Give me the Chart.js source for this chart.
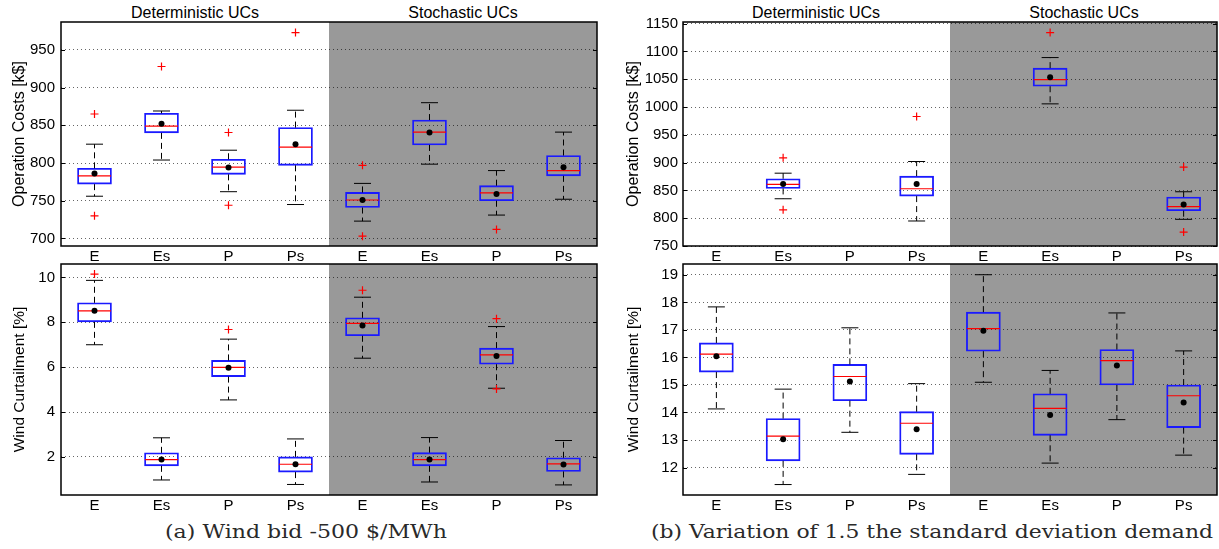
<!DOCTYPE html>
<html>
<head>
<meta charset="utf-8">
<script src="https://cdn.jsdelivr.net/npm/chart.js@4.4.1/dist/chart.umd.min.js"></script>
<style>
body { margin:0; background:#fff; width:1219px; height:549px; overflow:hidden; position:relative; font-family:"Liberation Sans", Arial, sans-serif; }
canvas { position:absolute; }
.lab { position:absolute; font-size:16px; color:#000; white-space:nowrap; transform:translateX(-50%); }
.cap { position:absolute; font-family:"DejaVu Serif", serif; font-size:18px; color:#2a2a2a; white-space:nowrap; transform-origin:0 0; }
</style>
</head>
<body>
<div class="lab" style="left:195px;top:4px">Deterministic UCs</div>
<div class="lab" style="left:463px;top:4px">Stochastic UCs</div>
<div class="lab" style="left:816px;top:4px">Deterministic UCs</div>
<div class="lab" style="left:1084px;top:4px">Stochastic UCs</div>

<canvas id="costA" width="602" height="262" style="left:0;top:0"></canvas>
<canvas id="windA" width="602" height="250" style="left:0;top:262px"></canvas>
<canvas id="costB" width="607" height="262" style="left:612px;top:0"></canvas>
<canvas id="windB" width="607" height="250" style="left:612px;top:262px"></canvas>

<div class="cap" id="capA" data-x="165" data-w="282" style="top:521px">(a) Wind bid -500 $/MWh</div>
<div class="cap" id="capB" data-x="651" data-w="562" style="top:521px">(b) Variation of 1.5 the standard deviation demand</div>

<script>
// categories along x (deterministic first, stochastic second)
var categories = ['E', 'Es', 'P', 'Ps', 'E', 'Es', 'P', 'Ps'];

// (a) operation costs [k$]
var costA_hi   = [825, 869, 817, 870, 773, 880, 790, 841];
var costA_q3   = [793, 866, 805, 847, 761, 857, 770, 810];
var costA_med  = [783, 849, 794.5, 821, 751, 841, 760.5, 790];
var costA_q1   = [772, 840, 785, 797, 741, 824, 750, 783];
var costA_lo   = [756, 804, 762, 745, 723, 798.5, 731, 752];
var costA_mean = [786, 852, 794, 825, 751, 840.5, 759, 794.5];
var costA_out  = [[730, 865], [928], [744, 840.5], [973], [703, 797], [], [712], []];
var costA_ticks = [700, 750, 800, 850, 900, 950];

// (a) wind curtailment [%]
var windA_hi   = [9.87, 2.85, 7.25, 2.8, 9.12, 2.86, 7.81, 2.73];
var windA_q3   = [8.87, 2.18, 6.3, 2.0, 8.2, 2.19, 6.85, 1.96];
var windA_med  = [8.51, 1.88, 5.99, 1.67, 7.95, 1.88, 6.55, 1.69];
var windA_q1   = [8.02, 1.6, 5.58, 1.32, 7.4, 1.6, 6.13, 1.35];
var windA_lo   = [7.0, 0.97, 4.54, 0.77, 6.4, 0.88, 5.06, 0.75];
var windA_mean = [8.51, 1.88, 5.97, 1.67, 7.86, 1.88, 6.5, 1.66];
var windA_out  = [[10.15], [], [7.68], [], [9.43], [], [8.16, 5.03], []];
var windA_ticks = [2, 4, 6, 8, 10];

// (b) operation costs [k$]  (E and P have no data)
var costB_hi   = [null, 881, null, 902, null, 1089, null, 847.6];
var costB_q3   = [null, 871, null, 875.7, null, 1070, null, 838];
var costB_med  = [null, 861, null, 853, null, 1049.4, null, 821];
var costB_q1   = [null, 853.6, null, 839.8, null, 1037.4, null, 813.5];
var costB_lo   = [null, 835, null, 795, null, 1005.7, null, 798];
var costB_mean = [null, 861.4, null, 861.4, null, 1053.6, null, 824.8];
var costB_out  = [[], [908.7, 815], [], [983], [], [1134], [], [892, 775]];
var costB_ticks = [750, 800, 850, 900, 950, 1000, 1050, 1100, 1150];

// (b) wind curtailment [%]
var windB_hi   = [17.84, 14.85, 17.08, 15.05, 19.01, 15.53, 17.62, 16.24];
var windB_q3   = [16.53, 13.78, 15.75, 14.03, 17.65, 14.68, 16.29, 15.0];
var windB_med  = [16.12, 13.14, 15.31, 13.61, 17.05, 14.15, 15.89, 14.61];
var windB_q1   = [15.47, 12.24, 14.43, 12.48, 16.23, 13.17, 15.0, 13.45];
var windB_lo   = [14.13, 11.38, 13.28, 11.75, 15.1, 12.16, 13.74, 12.45];
var windB_mean = [16.05, 13.03, 15.13, 13.39, 16.97, 13.91, 15.71, 14.36];
var windB_out  = [[], [], [], [], [], [], [], []];
var windB_ticks = [12, 13, 14, 15, 16, 17, 18, 19];

var FONT = '"Liberation Sans", Arial, sans-serif';

// grey background behind the stochastic half, frame + inward ticks on top
var panelPlugin = {
    id: 'panel',
    beforeDraw: function(chart) {
        var a = chart.chartArea, ctx = chart.ctx;
        var x0 = chart.scales.x.getPixelForValue(4.5);
        ctx.save();
        ctx.fillStyle = '#999999';
        ctx.fillRect(x0, a.top, a.right - x0, a.bottom - a.top);
        ctx.restore();
    },
    afterDraw: function(chart) {
        var a = chart.chartArea, ctx = chart.ctx, y = chart.scales.y;
        ctx.save();
        ctx.strokeStyle = '#000';
        ctx.lineWidth = 1.5;
        ctx.strokeRect(a.left, a.top, a.right - a.left, a.bottom - a.top);
        ctx.lineWidth = 1;
        y.ticks.forEach(function(t) {
            var py = Math.round(y.getPixelForValue(t.value)) + 0.5;
            ctx.beginPath();
            ctx.moveTo(a.left, py); ctx.lineTo(a.left + 4, py);
            ctx.moveTo(a.right - 4, py); ctx.lineTo(a.right, py);
            ctx.stroke();
        });
        ctx.restore();
    }
};

function boxChart(id, lo, q1, med, q3, hi, mean, out, yMin, yMax, yTicks, yTitle, opt) {
    var boxes = [], whisk = [], caps = [], meds = [], means = [], outs = [];
    categories.forEach(function(c, i) {
        var x = i + 1;
        if (med[i] == null) return;
        boxes.push({x: x, y: [q1[i], q3[i]]});
        whisk.push({x: x, y: q3[i]}, {x: x, y: hi[i]}, {x: x, y: null},
                   {x: x, y: q1[i]}, {x: x, y: lo[i]}, {x: x, y: null});
        caps.push({x: x, y: hi[i]}, {x: x, y: lo[i]});
        meds.push({x: x, y: med[i]});
        means.push({x: x, y: mean[i]});
        out[i].forEach(function(v) { outs.push({x: x, y: v}); });
    });

    return new Chart(document.getElementById(id), {
        data: {
            datasets: [
                { type: 'bar', data: boxes, order: 5, backgroundColor: 'rgba(0,0,0,0)',
                  borderColor: '#1a1aff', borderWidth: 1.2, borderSkipped: false, barThickness: 34 },
                { type: 'line', data: whisk, order: 4, borderColor: '#000', borderWidth: 1,
                  borderDash: [6, 4], pointRadius: 0, spanGaps: false, fill: false },
                { type: 'scatter', data: caps, order: 3, pointStyle: 'line', pointRadius: 8.5,
                  borderColor: '#000', pointBorderWidth: 1 },
                { type: 'scatter', data: meds, order: 2, pointStyle: 'line', pointRadius: 16.5,
                  borderColor: '#ff0000', pointBorderWidth: 1.2 },
                { type: 'scatter', data: means, order: 1, pointStyle: 'circle', pointRadius: 3,
                  backgroundColor: '#000', borderColor: '#000', pointBorderWidth: 0 },
                { type: 'scatter', data: outs, order: 0, pointStyle: 'cross', pointRadius: 4,
                  borderColor: '#ff0000', pointBorderWidth: 1.2 }
            ]
        },
        options: {
            responsive: false,
            animation: false,
            events: [],
            layout: { autoPadding: false, padding: { top: opt.padTop, right: opt.padRight, left: 0, bottom: 0 } },
            plugins: { legend: { display: false }, tooltip: { enabled: false } },
            scales: {
                x: {
                    type: 'linear', min: 0.5, max: 8.5, offset: false,
                    afterBuildTicks: function(s) { s.ticks = categories.map(function(c, i) { return {value: i + 1}; }); },
                    afterFit: function(s) { s.height = opt.xH; s.paddingLeft = 0; s.paddingRight = 0; },
                    grid: { display: false, drawTicks: false },
                    border: { display: false },
                    ticks: {
                        autoSkip: false, maxRotation: 0, padding: 2, color: '#000',
                        font: { family: FONT, size: 15 },
                        callback: function(v) { return categories[Math.round(v) - 1]; }
                    }
                },
                y: {
                    min: yMin, max: yMax,
                    afterBuildTicks: function(s) { s.ticks = yTicks.map(function(v) { return {value: v}; }); },
                    afterFit: function(s) { s.width = opt.yW; s.paddingTop = 0; s.paddingBottom = 0; },
                    grid: { color: 'rgba(0,0,0,0.6)', lineWidth: 1, drawTicks: false },
                    border: { display: false, dash: [1, 3] },
                    ticks: { color: '#000', padding: opt.tickPad, font: { family: FONT, size: 15 },
                             callback: function(v) { return String(v); } },
                    title: { display: true, text: yTitle, color: '#000',
                             font: { family: FONT, size: opt.titleSize }, padding: { top: opt.titlePad, bottom: 0 } }
                }
            }
        },
        plugins: [panelPlugin]
    });
}

boxChart('costA', costA_lo, costA_q1, costA_med, costA_q3, costA_hi, costA_mean, costA_out,
         690, 987, costA_ticks, 'Operation Costs [k$]',
         {padTop: 22, padRight: 5, xH: 16, yW: 61, tickPad: 6, titlePad: 10, titleSize: 16});
boxChart('windA', windA_lo, windA_q1, windA_med, windA_q3, windA_hi, windA_mean, windA_out,
         0.3, 10.6, windA_ticks, 'Wind Curtailment [%]',
         {padTop: 2, padRight: 5, xH: 17, yW: 61, tickPad: 6, titlePad: 10, titleSize: 15.5});
boxChart('costB', costB_lo, costB_q1, costB_med, costB_q3, costB_hi, costB_mean, costB_out,
         750, 1153, costB_ticks, 'Operation Costs [k$]',
         {padTop: 22, padRight: 2, xH: 16, yW: 71, tickPad: 5, titlePad: 12, titleSize: 16});
boxChart('windB', windB_lo, windB_q1, windB_med, windB_q3, windB_hi, windB_mean, windB_out,
         11, 19.4, windB_ticks, 'Wind Curtailment [%]',
         {padTop: 2, padRight: 2, xH: 17, yW: 71, tickPad: 5, titlePad: 12, titleSize: 15.5});

// stretch the captions to their width in the figure
['capA', 'capB'].forEach(function(id) {
    var el = document.getElementById(id);
    var w = el.getBoundingClientRect().width;
    el.style.left = el.dataset.x + 'px';
    el.style.transform = 'scaleX(' + (el.dataset.w / w) + ')';
});
</script>
</body>
</html>
